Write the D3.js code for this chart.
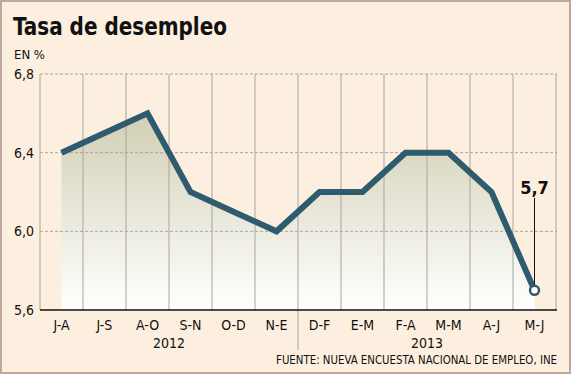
<!DOCTYPE html>
<html>
<head>
<meta charset="utf-8">
<script src="https://cdn.jsdelivr.net/npm/d3@7"></script>
<style>
  body { margin: 0; background: #fff; }
  svg { display: block; }
  text { font-family: "DejaVu Sans Condensed", "DejaVu Sans", sans-serif; fill: #111; }
</style>
</head>
<body>
<svg id="chart" width="572" height="375"></svg>
<script>
const months = ['J-A', 'J-S', 'A-O', 'S-N', 'O-D', 'N-E', 'D-F', 'E-M', 'F-A', 'M-M', 'A-J', 'M-J'];
const rates = [6.4, 6.5, 6.6, 6.2, 6.1, 6.0, 6.2, 6.2, 6.4, 6.4, 6.2, 5.7];
const yTicks = [5.6, 6.0, 6.4, 6.8];
const years = [['2012', 0, 6], ['2013', 6, 12]];

const svg = d3.select('#chart');
const lineColor = '#2f5b6f';
const gridColor = '#a9a59d';

const x = d3.scaleBand().domain(months).range([40, 556]).padding(0);
const y = d3.scaleLinear().domain([5.6, 6.8]).range([310, 74]);
const cx = (m) => x(m) + x.bandwidth() / 2;
const fmt = (v) => d3.format('.1f')(v).replace('.', ',');

// frame
svg.append('rect')
  .attr('x', 1).attr('y', 1)
  .attr('width', 569).attr('height', 372)
  .attr('fill', '#fdefdf')
  .attr('stroke', '#bea99d')
  .attr('stroke-width', 2);

svg.append('text')
  .attr('x', 13).attr('y', 35)
  .attr('font-size', 25).attr('font-weight', 'bold')
  .attr('textLength', 214).attr('lengthAdjust', 'spacingAndGlyphs')
  .text('Tasa de desempleo');

svg.append('text')
  .attr('x', 14).attr('y', 59)
  .attr('font-size', 13)
  .text('EN %');

// area with gradient
const grad = svg.append('defs').append('linearGradient')
  .attr('id', 'fillGrad')
  .attr('gradientUnits', 'userSpaceOnUse')
  .attr('x1', 0).attr('x2', 0)
  .attr('y1', y(6.6)).attr('y2', y(5.6));
grad.append('stop').attr('offset', 0).attr('stop-color', '#d2cfb4');
grad.append('stop').attr('offset', 1).attr('stop-color', '#ffffff');

const area = d3.area()
  .x((d, i) => cx(months[i]))
  .y0(y(5.6))
  .y1((d) => y(d));

svg.append('path')
  .datum(rates)
  .attr('d', area)
  .attr('fill', 'url(#fillGrad)');

// vertical grid
const edges = months.map((m) => x(m)).concat([x.range()[1]]);
svg.selectAll('.vgrid')
  .data(edges)
  .join('line')
  .attr('class', 'vgrid')
  .attr('x1', (d) => d).attr('x2', (d) => d)
  .attr('y1', y(6.8)).attr('y2', (d, i) => (i === 6 ? 350 : y(5.6)))
  .attr('stroke', gridColor)
  .attr('stroke-width', 1);

// horizontal dashed grid
svg.selectAll('.hgrid')
  .data(yTicks.filter((t) => t > 5.6))
  .join('line')
  .attr('class', 'hgrid')
  .attr('x1', 40).attr('x2', 557)
  .attr('y1', (d) => y(d)).attr('y2', (d) => y(d))
  .attr('stroke', gridColor)
  .attr('stroke-dasharray', '3,2');

// y labels
svg.selectAll('.ylab')
  .data(yTicks)
  .join('text')
  .attr('class', 'ylab')
  .attr('x', 34).attr('y', (d) => y(d) + 5)
  .attr('text-anchor', 'end')
  .attr('font-size', 14)
  .text(fmt);

// x axis
svg.append('line')
  .attr('x1', 40).attr('x2', 557)
  .attr('y1', y(5.6)).attr('y2', y(5.6))
  .attr('stroke', '#111')
  .attr('stroke-width', 1.5);

svg.selectAll('.xlab')
  .data(months)
  .join('text')
  .attr('class', 'xlab')
  .attr('x', cx).attr('y', 330)
  .attr('text-anchor', 'middle')
  .attr('font-size', 14)
  .text((d) => d);

svg.selectAll('.year')
  .data(years)
  .join('text')
  .attr('class', 'year')
  .attr('x', (d) => (x(months[d[1]]) + x(months[d[2] - 1]) + x.bandwidth()) / 2)
  .attr('y', 348)
  .attr('text-anchor', 'middle')
  .attr('font-size', 14)
  .text((d) => d[0]);

// line
svg.append('path')
  .datum(rates)
  .attr('d', d3.line().x((d, i) => cx(months[i])).y((d) => y(d)))
  .attr('fill', 'none')
  .attr('stroke', lineColor)
  .attr('stroke-width', 6)
  .attr('stroke-linejoin', 'miter');

// last point callout
const lastM = months[months.length - 1];
const lastV = rates[rates.length - 1];
svg.append('line')
  .attr('x1', cx(lastM)).attr('x2', cx(lastM))
  .attr('y1', 198).attr('y2', y(lastV) - 5)
  .attr('stroke', '#111')
  .attr('stroke-width', 1);

svg.append('circle')
  .attr('cx', cx(lastM)).attr('cy', y(lastV))
  .attr('r', 4.5)
  .attr('fill', '#fff')
  .attr('stroke', lineColor)
  .attr('stroke-width', 2.5);

svg.append('text')
  .attr('x', cx(lastM)).attr('y', 194)
  .attr('text-anchor', 'middle')
  .attr('font-size', 18).attr('font-weight', 'bold')
  .text(fmt(lastV));

svg.append('text')
  .attr('x', 557).attr('y', 364)
  .attr('text-anchor', 'end')
  .attr('font-size', 12)
  .attr('textLength', 281).attr('lengthAdjust', 'spacingAndGlyphs')
  .text('FUENTE: NUEVA ENCUESTA NACIONAL DE EMPLEO, INE');
</script>
</body>
</html>
